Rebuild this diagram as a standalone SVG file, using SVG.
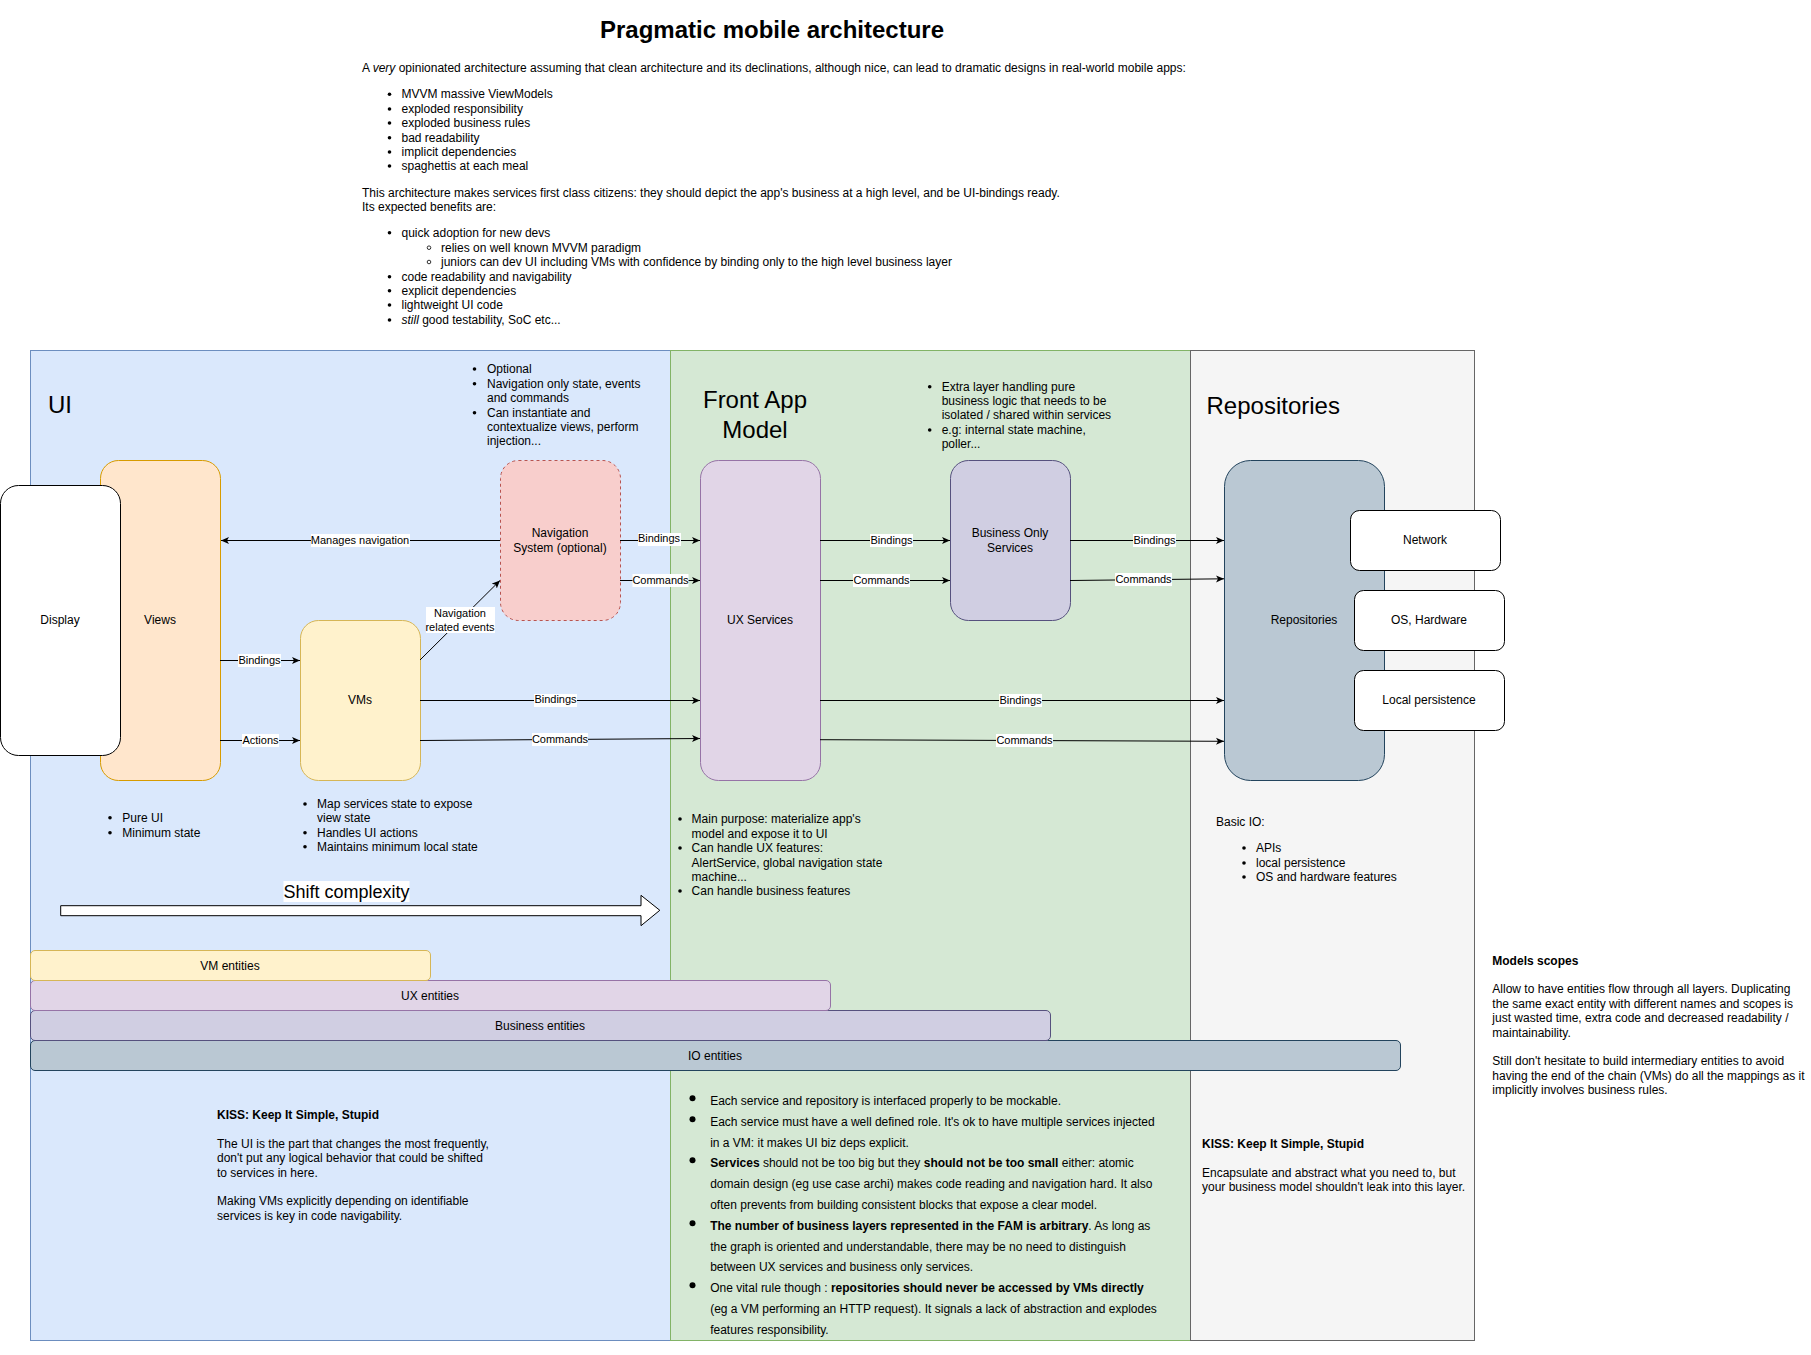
<svg xmlns="http://www.w3.org/2000/svg" width="1811" height="1355" viewBox="0 0 1811 1355">
<defs>
<style>
text{font-family:"Liberation Sans",Arial,Helvetica,sans-serif;font-size:12px;fill:#000}
.c{text-anchor:middle}
.lbl{font-size:11px;text-anchor:middle}
.big{font-size:24px}
.b{font-weight:bold}
.edge{fill:none;stroke:#000;stroke-width:1}
.lblbg{fill:#fff}
.dot{fill:#000}
</style>
<marker id="arr" markerUnits="userSpaceOnUse" markerWidth="9" markerHeight="9" refX="8" refY="4" orient="auto">
<path d="M0,0.5 L8,4 L0,7.5 L2,4 Z" fill="#000"/>
</marker>
</defs>
<rect x="0" y="0" width="1811" height="1355" fill="#fff"/>

<g id="header">
<text x="772" y="38" class="c b" style="font-size:24px">Pragmatic mobile architecture</text>
<text x="362" y="72">A <tspan font-style="italic">very</tspan> opinionated architecture assuming that clean architecture and its declinations, although nice, can lead to dramatic designs in real-world mobile apps:</text>
<g class="dot"><circle cx="389.5" cy="94.3" r="1.8"/><circle cx="389.5" cy="109" r="1.8"/><circle cx="389.5" cy="123" r="1.8"/><circle cx="389.5" cy="137.7" r="1.8"/><circle cx="389.5" cy="152" r="1.8"/><circle cx="389.5" cy="166" r="1.8"/></g>
<text x="401.5" y="98.3">MVVM massive ViewModels</text>
<text x="401.5" y="113">exploded responsibility</text>
<text x="401.5" y="127">exploded business rules</text>
<text x="401.5" y="141.7">bad readability</text>
<text x="401.5" y="156">implicit dependencies</text>
<text x="401.5" y="170">spaghettis at each meal</text>
<text x="362" y="196.7">This architecture makes services first class citizens: they should depict the app's business at a high level, and be UI-bindings ready.</text>
<text x="362" y="211">Its expected benefits are:</text>
<g class="dot"><circle cx="389.5" cy="232.7" r="1.8"/><circle cx="389.5" cy="276.7" r="1.8"/><circle cx="389.5" cy="290.7" r="1.8"/><circle cx="389.5" cy="305" r="1.8"/><circle cx="389.5" cy="320" r="1.8"/></g>
<circle cx="429" cy="247.7" r="1.8" fill="none" stroke="#000" stroke-width="0.8"/>
<circle cx="429" cy="262" r="1.8" fill="none" stroke="#000" stroke-width="0.8"/>
<text x="401.5" y="236.7">quick adoption for new devs</text>
<text x="441" y="251.7">relies on well known MVVM paradigm</text>
<text x="441" y="266">juniors can dev UI including VMs with confidence by binding only to the high level business layer</text>
<text x="401.5" y="280.7">code readability and navigability</text>
<text x="401.5" y="294.7">explicit dependencies</text>
<text x="401.5" y="309">lightweight UI code</text>
<text x="401.5" y="324"><tspan font-style="italic">still</tspan> good testability, SoC etc...</text>
</g>

<g id="layer-ui">
<rect x="30.5" y="350.5" width="640" height="990" fill="#dae8fc" stroke="#6c8ebf"/>
<text x="48" y="413" class="big">UI</text>
</g>
<g id="layer-fam">
<rect x="670.5" y="350.5" width="520" height="990" fill="#d5e8d4" stroke="#82b366"/>
<text x="755" y="408" class="big c">Front App</text>
<text x="755" y="438" class="big c">Model</text>
</g>
<g id="layer-repositories">
<rect x="1190.5" y="350.5" width="284" height="990" fill="#f5f5f5" stroke="#666666"/>
<text x="1206.5" y="414" class="big">Repositories</text>
</g>

<g id="note-nav">
<g class="dot"><circle cx="474.5" cy="369" r="1.8"/><circle cx="474.5" cy="383.7" r="1.8"/><circle cx="474.5" cy="412.7" r="1.8"/></g>
<text x="487" y="373">Optional</text>
<text x="487" y="387.7">Navigation only state, events</text>
<text x="487" y="401.7">and commands</text>
<text x="487" y="416.7">Can instantiate and</text>
<text x="487" y="430.7">contextualize views, perform</text>
<text x="487" y="444.7">injection...</text>
</g>
<g id="note-bos">
<g class="dot"><circle cx="929.7" cy="386.7" r="1.8"/><circle cx="929.7" cy="430" r="1.8"/></g>
<text x="941.7" y="390.7">Extra layer handling pure</text>
<text x="941.7" y="405">business logic that needs to be</text>
<text x="941.7" y="419">isolated / shared within services</text>
<text x="941.7" y="434">e.g: internal state machine,</text>
<text x="941.7" y="448">poller...</text>
</g>

<g id="node-views">
<rect x="100.5" y="460.5" width="120" height="320" rx="18" fill="#ffe6cc" stroke="#d79b00"/>
<text x="160" y="624" class="c">Views</text>
</g>
<g id="node-display">
<rect x="0.5" y="485.5" width="120" height="270" rx="18" fill="#fff" stroke="#000"/>
<text x="60" y="624" class="c">Display</text>
</g>
<g id="node-vms">
<rect x="300.5" y="620.5" width="120" height="160" rx="18" fill="#fff2cc" stroke="#d6b656"/>
<text x="360" y="704" class="c">VMs</text>
</g>
<g id="node-nav">
<rect x="500.5" y="460.5" width="120" height="160" rx="18" fill="#f8cecc" stroke="#b85450" stroke-dasharray="3 3"/>
<text x="560" y="537" class="c">Navigation</text>
<text x="560" y="552" class="c">System (optional)</text>
</g>
<g id="node-ux">
<rect x="700.5" y="460.5" width="120" height="320" rx="18" fill="#e1d5e7" stroke="#9673a6"/>
<text x="760" y="624" class="c">UX Services</text>
</g>
<g id="node-bos">
<rect x="950.5" y="460.5" width="120" height="160" rx="18" fill="#d0cee2" stroke="#56517e"/>
<text x="1010" y="537" class="c">Business Only</text>
<text x="1010" y="552" class="c">Services</text>
</g>
<g id="node-repos">
<rect x="1224.5" y="460.5" width="160" height="320" rx="26" fill="#bac8d3" stroke="#23445d"/>
<text x="1304" y="624" class="c">Repositories</text>
</g>
<g id="node-network">
<rect x="1350.5" y="510.5" width="150" height="60" rx="9" fill="#fff" stroke="#000"/>
<text x="1425" y="544" class="c">Network</text>
</g>
<g id="node-os">
<rect x="1354.5" y="590.5" width="150" height="60" rx="9" fill="#fff" stroke="#000"/>
<text x="1429" y="624" class="c">OS, Hardware</text>
</g>
<g id="node-local">
<rect x="1354.5" y="670.5" width="150" height="60" rx="9" fill="#fff" stroke="#000"/>
<text x="1429" y="704" class="c">Local persistence</text>
</g>

<g id="connectors">
<path class="edge" d="M500,540.5 H221" marker-end="url(#arr)"/>
<path class="edge" d="M620,540.5 H700" marker-end="url(#arr)"/>
<path class="edge" d="M620,580.5 H700" marker-end="url(#arr)"/>
<path class="edge" d="M420,660 L500,580.5" marker-end="url(#arr)"/>
<path class="edge" d="M220,660.5 H300" marker-end="url(#arr)"/>
<path class="edge" d="M220,740.5 H300" marker-end="url(#arr)"/>
<path class="edge" d="M420,700.5 H700" marker-end="url(#arr)"/>
<path class="edge" d="M420,740.5 L700,738.5" marker-end="url(#arr)"/>
<path class="edge" d="M820,540.5 H950" marker-end="url(#arr)"/>
<path class="edge" d="M820,580.5 H950" marker-end="url(#arr)"/>
<path class="edge" d="M1070,540.5 H1224" marker-end="url(#arr)"/>
<path class="edge" d="M1070,580.5 L1224,578.8" marker-end="url(#arr)"/>
<path class="edge" d="M820,700.5 H1224" marker-end="url(#arr)"/>
<path class="edge" d="M820,739.7 L1224,741.3" marker-end="url(#arr)"/>
<g class="lblbg">
<rect x="311" y="534" width="99" height="13"/>
<rect x="638" y="533" width="43" height="13"/>
<rect x="632.5" y="574" width="56" height="13"/>
<rect x="426" y="607" width="69" height="26"/>
<rect x="238" y="654" width="43" height="13"/>
<rect x="242" y="734" width="37" height="13"/>
<rect x="534" y="694" width="43" height="13"/>
<rect x="532" y="733" width="56" height="13"/>
<rect x="870" y="534" width="43" height="13"/>
<rect x="853" y="574" width="57" height="13"/>
<rect x="1133" y="534" width="43" height="13"/>
<rect x="1115" y="573" width="57" height="13"/>
<rect x="999" y="694" width="43" height="13"/>
<rect x="996" y="734" width="57" height="13"/>
</g>
<text x="360" y="544" class="lbl">Manages navigation</text>
<text x="659" y="542" class="lbl">Bindings</text>
<text x="660.5" y="584" class="lbl">Commands</text>
<text x="460" y="617" class="lbl">Navigation</text>
<text x="460" y="631" class="lbl">related events</text>
<text x="259.5" y="664" class="lbl">Bindings</text>
<text x="260.5" y="744" class="lbl">Actions</text>
<text x="555.5" y="703" class="lbl">Bindings</text>
<text x="560" y="743" class="lbl">Commands</text>
<text x="891.5" y="544" class="lbl">Bindings</text>
<text x="881.5" y="583.5" class="lbl">Commands</text>
<text x="1154.5" y="544" class="lbl">Bindings</text>
<text x="1143.5" y="583" class="lbl">Commands</text>
<text x="1020.5" y="704" class="lbl">Bindings</text>
<text x="1024.5" y="744" class="lbl">Commands</text>
</g>

<g id="note-views">
<g class="dot"><circle cx="110" cy="817.7" r="1.8"/><circle cx="110" cy="832.7" r="1.8"/></g>
<text x="122.3" y="821.7">Pure UI</text>
<text x="122.3" y="836.7">Minimum state</text>
</g>
<g id="note-vms">
<g class="dot"><circle cx="305" cy="804" r="1.8"/><circle cx="305" cy="832.7" r="1.8"/><circle cx="305" cy="846.7" r="1.8"/></g>
<text x="317" y="808">Map services state to expose</text>
<text x="317" y="821.7">view state</text>
<text x="317" y="836.7">Handles UI actions</text>
<text x="317" y="850.7">Maintains minimum local state</text>
</g>
<g id="note-fam">
<g class="dot"><circle cx="680" cy="819" r="1.8"/><circle cx="680" cy="848" r="1.8"/><circle cx="680" cy="891" r="1.8"/></g>
<text x="691.6" y="823">Main purpose: materialize app's</text>
<text x="691.6" y="837.7">model and expose it to UI</text>
<text x="691.6" y="852">Can handle UX features:</text>
<text x="691.6" y="866.7">AlertService, global navigation state</text>
<text x="691.6" y="881">machine...</text>
<text x="691.6" y="895">Can handle business features</text>
</g>
<g id="note-repos">
<text x="1216" y="825.7">Basic IO:</text>
<g class="dot"><circle cx="1244" cy="848" r="1.8"/><circle cx="1244" cy="863" r="1.8"/><circle cx="1244" cy="877" r="1.8"/></g>
<text x="1256" y="852">APIs</text>
<text x="1256" y="867">local persistence</text>
<text x="1256" y="881">OS and hardware features</text>
</g>

<g id="shift-complexity">
<polygon points="60.7,905.7 641,905.7 641,895.3 659.8,910.3 641,925.7 641,915.7 60.7,915.7" fill="#fff" stroke="#000"/>
<rect x="283.5" y="881" width="126" height="21" fill="#fff"/>
<text x="346.5" y="898" class="c" style="font-size:18px">Shift complexity</text>
</g>

<g id="entities">
<rect x="30.5" y="1040.5" width="1370" height="30" rx="4.5" fill="#bac8d3" stroke="#23445d"/>
<text x="715" y="1059.5" class="c">IO entities</text>
<rect x="30.5" y="1010.5" width="1020" height="30" rx="4.5" fill="#d0cee2" stroke="#56517e"/>
<text x="540" y="1029.5" class="c">Business entities</text>
<rect x="30.5" y="980.5" width="800" height="30" rx="4.5" fill="#e1d5e7" stroke="#9673a6"/>
<text x="430" y="999.5" class="c">UX entities</text>
<rect x="30.5" y="950.5" width="400" height="30" rx="4.5" fill="#fff2cc" stroke="#d6b656"/>
<text x="230" y="969.5" class="c">VM entities</text>
</g>

<g id="note-kiss-ui">
<text x="217" y="1118.7" class="b">KISS: Keep It Simple, Stupid</text>
<text x="217" y="1148">The UI is the part that changes the most frequently,</text>
<text x="217" y="1162">don't put any logical behavior that could be shifted</text>
<text x="217" y="1176.7">to services in here.</text>
<text x="217" y="1205">Making VMs explicitly depending on identifiable</text>
<text x="217" y="1219.7">services is key in code navigability.</text>
</g>

<g id="note-rules">
<g class="dot"><circle cx="692.5" cy="1098.3" r="3"/><circle cx="692.5" cy="1119.3" r="3"/><circle cx="692.5" cy="1160.3" r="3"/><circle cx="692.5" cy="1223.3" r="3"/><circle cx="692.5" cy="1285.3" r="3"/></g>
<text x="710.2" y="1105">Each service and repository is interfaced properly to be mockable.</text>
<text x="710.2" y="1126">Each service must have a well defined role. It's ok to have multiple services injected</text>
<text x="710.2" y="1146.7">in a VM: it makes UI biz deps explicit.</text>
<text x="710.2" y="1167"><tspan font-weight="bold">Services</tspan> should not be too big but they <tspan font-weight="bold">should not be too small</tspan> either: atomic</text>
<text x="710.2" y="1188">domain design (eg use case archi) makes code reading and navigation hard. It also</text>
<text x="710.2" y="1209">often prevents from building consistent blocks that expose a clear model.</text>
<text x="710.2" y="1230"><tspan font-weight="bold">The number of business layers represented in the FAM is arbitrary</tspan>. As long as</text>
<text x="710.2" y="1250.7">the graph is oriented and understandable, there may be no need to distinguish</text>
<text x="710.2" y="1271">between UX services and business only services.</text>
<text x="710.2" y="1292">One vital rule though : <tspan font-weight="bold">repositories should never be accessed by VMs directly</tspan></text>
<text x="710.2" y="1313">(eg a VM performing an HTTP request). It signals a lack of abstraction and explodes</text>
<text x="710.2" y="1333.7">features responsibility.</text>
</g>

<g id="note-kiss-repos">
<text x="1202" y="1147.7" class="b">KISS: Keep It Simple, Stupid</text>
<text x="1202" y="1177">Encapsulate and abstract what you need to, but</text>
<text x="1202" y="1191">your business model shouldn't leak into this layer.</text>
</g>

<g id="note-models-scopes">
<text x="1492.3" y="964.7" class="b">Models scopes</text>
<text x="1492.3" y="993">Allow to have entities flow through all layers. Duplicating</text>
<text x="1492.3" y="1007.7">the same exact entity with different names and scopes is</text>
<text x="1492.3" y="1022">just wasted time, extra code and decreased readability /</text>
<text x="1492.3" y="1036.7">maintainability.</text>
<text x="1492.3" y="1065">Still don't hesitate to build intermediary entities to avoid</text>
<text x="1492.3" y="1079.7">having the end of the chain (VMs) do all the mappings as it</text>
<text x="1492.3" y="1094">implicitly involves business rules.</text>
</g>
</svg>
